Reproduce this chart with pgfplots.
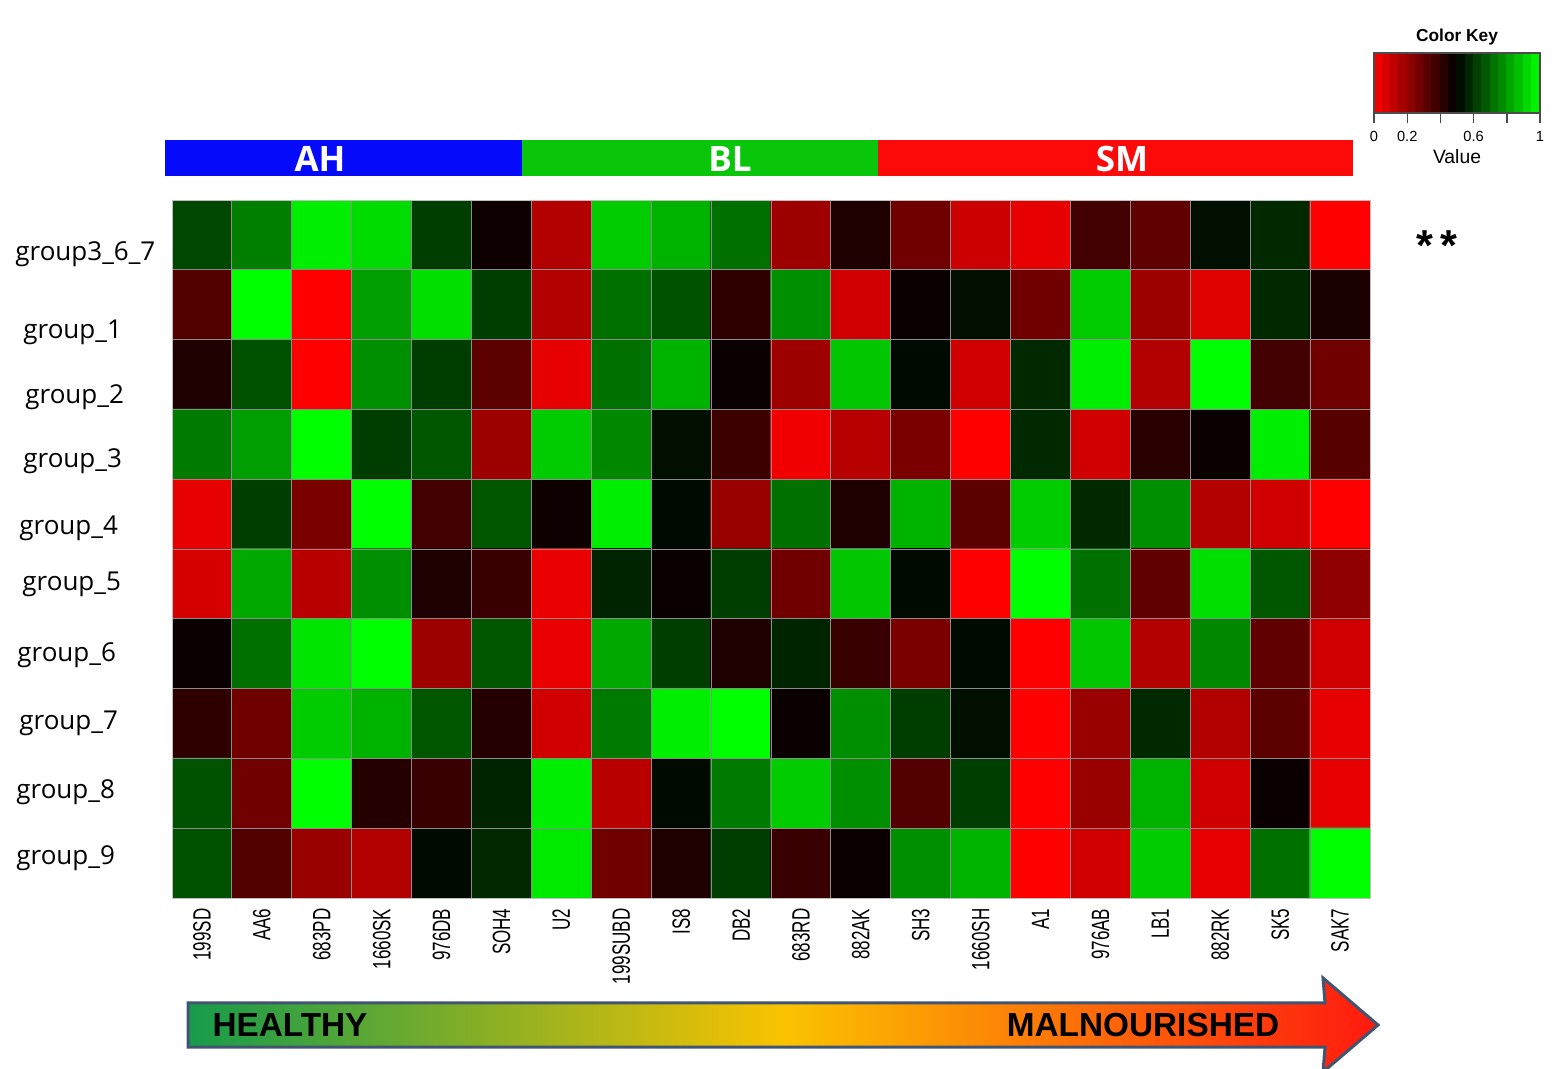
\documentclass[border=0pt]{standalone}
\usepackage{fontspec}
\setmainfont{Open Sans}
\newfontfamily\lab{Liberation Sans}
\usepackage{graphicx}
\usepackage{pgfplots}
\pgfplotsset{compat=1.18}
\newcommand\sq[1]{\scalebox{0.68}[1]{#1}}
\definecolor{barblue}{RGB}{5,10,250}
\definecolor{bargreen}{RGB}{10,198,10}
\definecolor{barred}{RGB}{252,10,10}
\definecolor{arrgreen}{RGB}{22,155,75}
\definecolor{arryellow}{RGB}{250,195,0}
\definecolor{arrred}{RGB}{255,25,15}
\definecolor{arrborder}{RGB}{65,85,115}
\pgfplotsset{
  colormap={rg}{rgb255(0cm)=(255,0,0); rgb255(1cm)=(0,0,0); rgb255(2cm)=(0,255,0)},
}
\begin{document}
\begin{tikzpicture}
\useasboundingbox (0,0) rectangle (469.8pt,320.4pt);
% group bars
\fill[barblue] (49.5pt,267.6pt) rectangle (156.6pt,278.4pt);
\fill[bargreen] (156.6pt,267.6pt) rectangle (263.4pt,278.4pt);
\fill[barred] (263.4pt,267.6pt) rectangle (405.9pt,278.4pt);
\node[text=white, font=\fontsize{10.5}{12}\selectfont\bfseries] at (96pt,272.6pt) {AH};
\node[text=white, font=\fontsize{10.5}{12}\selectfont\bfseries] at (219pt,272.6pt) {BL};
\node[text=white, font=\fontsize{10.5}{12}\selectfont\bfseries] at (336.6pt,272.6pt) {SM};
% arrow
\shade[left color=arrgreen, right color=arrred, middle color=arryellow]
  (56.4pt,19.5pt) -- (397.5pt,19.5pt) -- (396.9pt,27pt) -- (413.4pt,12.9pt) -- (396.9pt,-1.2pt) -- (397.5pt,6.3pt) -- (56.4pt,6.3pt) -- cycle;
\draw[arrborder, line width=0.9pt, line join=miter]
  (56.4pt,19.5pt) -- (397.5pt,19.5pt) -- (396.9pt,27pt) -- (413.4pt,12.9pt) -- (396.9pt,-1.2pt) -- (397.5pt,6.3pt) -- (56.4pt,6.3pt) -- cycle;
\node[font=\fontsize{10}{12}\selectfont\lab\bfseries] at (87pt,12.9pt) {HEALTHY};
\node[font=\fontsize{10}{12}\selectfont\lab\bfseries] at (342.9pt,12.9pt) {MALNOURISHED};
% color key labels
\node[font=\fontsize{5.2}{6}\selectfont\lab\bfseries] at (437.1pt,309.3pt) {Color Key};
\node[font=\fontsize{5.8}{6}\selectfont\lab] at (437.1pt,273.3pt) {Value};
\node[anchor=base, font=\fontsize{13}{14}\selectfont\lab\bfseries] at (431.1pt,242.3pt) {*\hspace{2pt}*};
\begin{axis}[
  at={(51.6pt,51pt)}, anchor=south west,
  width=359.4pt, height=209.4pt, scale only axis,
  xmin=-0.5, xmax=19.5, ymin=-0.5, ymax=9.5, y dir=reverse,
  enlargelimits=false,
  point meta min=0, point meta max=1,
  xtick={0,...,19},
  xticklabels={\sq{199SD},\sq{AA6},\sq{683PD},\sq{1660SK},\sq{976DB},\sq{SOH4},\sq{U2},\sq{199SUBD},\sq{IS8},\sq{DB2},\sq{683RD},\sq{882AK},\sq{SH3},\sq{1660SH},\sq{A1},\sq{976AB},\sq{LB1},\sq{882RK},\sq{SK5},\sq{SAK7}},
  xticklabel style={rotate=90, anchor=east, font=\fontsize{7.5}{8}\selectfont\lab, inner xsep=3pt},
  ytick={0.27,1.40,2.32,3.24,4.20,5.01,6.02,7.0,7.99,8.93},
  yticklabels={group3\_6\_7,\hspace{2.4pt}group\_1,\hspace{3pt}group\_2,\hspace{2.4pt}group\_3,\hspace{1.2pt}group\_4,\hspace{2.1pt}group\_5,\hspace{0.6pt}group\_6,\hspace{1.2pt}group\_7,\hspace{0.3pt}group\_8,\hspace{0.3pt}group\_9},
  yticklabel style={anchor=west, xshift=-50.5pt, font=\fontsize{7.8}{9}\selectfont},
  minor xtick={0.5,1.5,...,18.5},
  minor ytick={0.5,1.5,...,8.5},
  grid=minor,
  minor grid style={black!45, line width=0.3pt},
  major tick length=0pt, minor tick length=0pt,
  axis line style={black!25, line width=0.3pt},
  axis on top,
]
\addplot[matrix plot*, mesh/cols=20, mesh/ordering=x varies, point meta=explicit] coordinates {
(0,0)[0.64] (1,0)[0.75] (2,0)[0.97] (3,0)[0.93] (4,0)[0.62] (5,0)[0.47] (6,0)[0.15] (7,0)[0.90] (8,0)[0.85] (9,0)[0.72] (10,0)[0.19] (11,0)[0.44] (12,0)[0.28] (13,0)[0.10] (14,0)[0.05] (15,0)[0.37] (16,0)[0.31] (17,0)[0.53] (18,0)[0.58] (19,0)[0.00]

(0,1)[0.34] (1,1)[1.00] (2,1)[0.00] (3,1)[0.81] (4,1)[0.94] (5,1)[0.62] (6,1)[0.15] (7,1)[0.72] (8,1)[0.66] (9,1)[0.41] (10,1)[0.78] (11,1)[0.09] (12,1)[0.48] (13,1)[0.53] (14,1)[0.28] (15,1)[0.90] (16,1)[0.19] (17,1)[0.06] (18,1)[0.58] (19,1)[0.45]

(0,2)[0.44] (1,2)[0.66] (2,2)[0.00] (3,2)[0.78] (4,2)[0.62] (5,2)[0.32] (6,2)[0.05] (7,2)[0.72] (8,2)[0.85] (9,2)[0.48] (10,2)[0.19] (11,2)[0.89] (12,2)[0.52] (13,2)[0.09] (14,2)[0.58] (15,2)[0.97] (16,2)[0.15] (17,2)[1.00] (18,2)[0.37] (19,2)[0.28]

(0,3)[0.74] (1,3)[0.81] (2,3)[1.00] (3,3)[0.62] (4,3)[0.67] (5,3)[0.19] (6,3)[0.90] (7,3)[0.77] (8,3)[0.53] (9,3)[0.38] (10,3)[0.03] (11,3)[0.14] (12,3)[0.26] (13,3)[0.00] (14,3)[0.58] (15,3)[0.09] (16,3)[0.42] (17,3)[0.48] (18,3)[0.97] (19,3)[0.33]

(0,4)[0.05] (1,4)[0.62] (2,4)[0.26] (3,4)[1.00] (4,4)[0.37] (5,4)[0.67] (6,4)[0.47] (7,4)[0.97] (8,4)[0.52] (9,4)[0.20] (10,4)[0.72] (11,4)[0.44] (12,4)[0.85] (13,4)[0.32] (14,4)[0.90] (15,4)[0.58] (16,4)[0.78] (17,4)[0.15] (18,4)[0.09] (19,4)[0.00]

(0,5)[0.08] (1,5)[0.83] (2,5)[0.14] (3,5)[0.78] (4,5)[0.44] (5,5)[0.39] (6,5)[0.04] (7,5)[0.57] (8,5)[0.48] (9,5)[0.62] (10,5)[0.28] (11,5)[0.89] (12,5)[0.52] (13,5)[0.00] (14,5)[1.00] (15,5)[0.72] (16,5)[0.31] (17,5)[0.94] (18,5)[0.67] (19,5)[0.22]

(0,6)[0.48] (1,6)[0.72] (2,6)[0.95] (3,6)[1.00] (4,6)[0.19] (5,6)[0.67] (6,6)[0.04] (7,6)[0.83] (8,6)[0.62] (9,6)[0.44] (10,6)[0.57] (11,6)[0.39] (12,6)[0.26] (13,6)[0.52] (14,6)[0.00] (15,6)[0.89] (16,6)[0.15] (17,6)[0.77] (18,6)[0.31] (19,6)[0.09]

(0,7)[0.41] (1,7)[0.28] (2,7)[0.90] (3,7)[0.85] (4,7)[0.67] (5,7)[0.43] (6,7)[0.09] (7,7)[0.74] (8,7)[0.97] (9,7)[1.00] (10,7)[0.48] (11,7)[0.78] (12,7)[0.62] (13,7)[0.53] (14,7)[0.00] (15,7)[0.20] (16,7)[0.58] (17,7)[0.15] (18,7)[0.32] (19,7)[0.05]

(0,8)[0.66] (1,8)[0.28] (2,8)[1.00] (3,8)[0.43] (4,8)[0.39] (5,8)[0.57] (6,8)[0.97] (7,8)[0.14] (8,8)[0.52] (9,8)[0.74] (10,8)[0.90] (11,8)[0.78] (12,8)[0.34] (13,8)[0.62] (14,8)[0.00] (15,8)[0.20] (16,8)[0.85] (17,8)[0.09] (18,8)[0.48] (19,8)[0.05]

(0,9)[0.66] (1,9)[0.34] (2,9)[0.20] (3,9)[0.15] (4,9)[0.52] (5,9)[0.58] (6,9)[0.96] (7,9)[0.28] (8,9)[0.44] (9,9)[0.62] (10,9)[0.39] (11,9)[0.48] (12,9)[0.78] (13,9)[0.85] (14,9)[0.00] (15,9)[0.09] (16,9)[0.90] (17,9)[0.05] (18,9)[0.72] (19,9)[1.00]
};
\end{axis}
% color key bar
\begin{axis}[
  at={(412.2pt,286.5pt)}, anchor=south west,
  width=49.8pt, height=18pt, scale only axis,
  xmin=0, xmax=1, ymin=0, ymax=1, enlargelimits=false,
  point meta min=0, point meta max=1,
  xtick={0,0.2,0.4,0.6,0.8,1},
  xticklabels={0,0.2,,0.6,,1},
  xtick align=outside, xtick pos=bottom, major tick length=3pt,
  xticklabel style={font=\fontsize{4.4}{5}\selectfont\lab, inner sep=2.2pt},
  ytick=\empty,
  axis line style={black!70, line width=0.4pt},
  tick style={black!70, line width=0.4pt},
  axis on top,
]
\addplot[surf, shader=flat mean, mesh/rows=2, mesh/ordering=x varies, point meta=explicit] coordinates {
(0,0)[0] (0.05,0)[0.05] (0.1,0)[0.1] (0.15,0)[0.15] (0.2,0)[0.2] (0.25,0)[0.25] (0.3,0)[0.3] (0.35,0)[0.35] (0.4,0)[0.4] (0.45,0)[0.45] (0.5,0)[0.5] (0.55,0)[0.55] (0.6,0)[0.6] (0.65,0)[0.65] (0.7,0)[0.7] (0.75,0)[0.75] (0.8,0)[0.8] (0.85,0)[0.85] (0.9,0)[0.9] (0.95,0)[0.95] (1,0)[1]

(0,1)[0] (0.05,1)[0.05] (0.1,1)[0.1] (0.15,1)[0.15] (0.2,1)[0.2] (0.25,1)[0.25] (0.3,1)[0.3] (0.35,1)[0.35] (0.4,1)[0.4] (0.45,1)[0.45] (0.5,1)[0.5] (0.55,1)[0.55] (0.6,1)[0.6] (0.65,1)[0.65] (0.7,1)[0.7] (0.75,1)[0.75] (0.8,1)[0.8] (0.85,1)[0.85] (0.9,1)[0.9] (0.95,1)[0.95] (1,1)[1]
};
\end{axis}
\end{tikzpicture}
\end{document}
